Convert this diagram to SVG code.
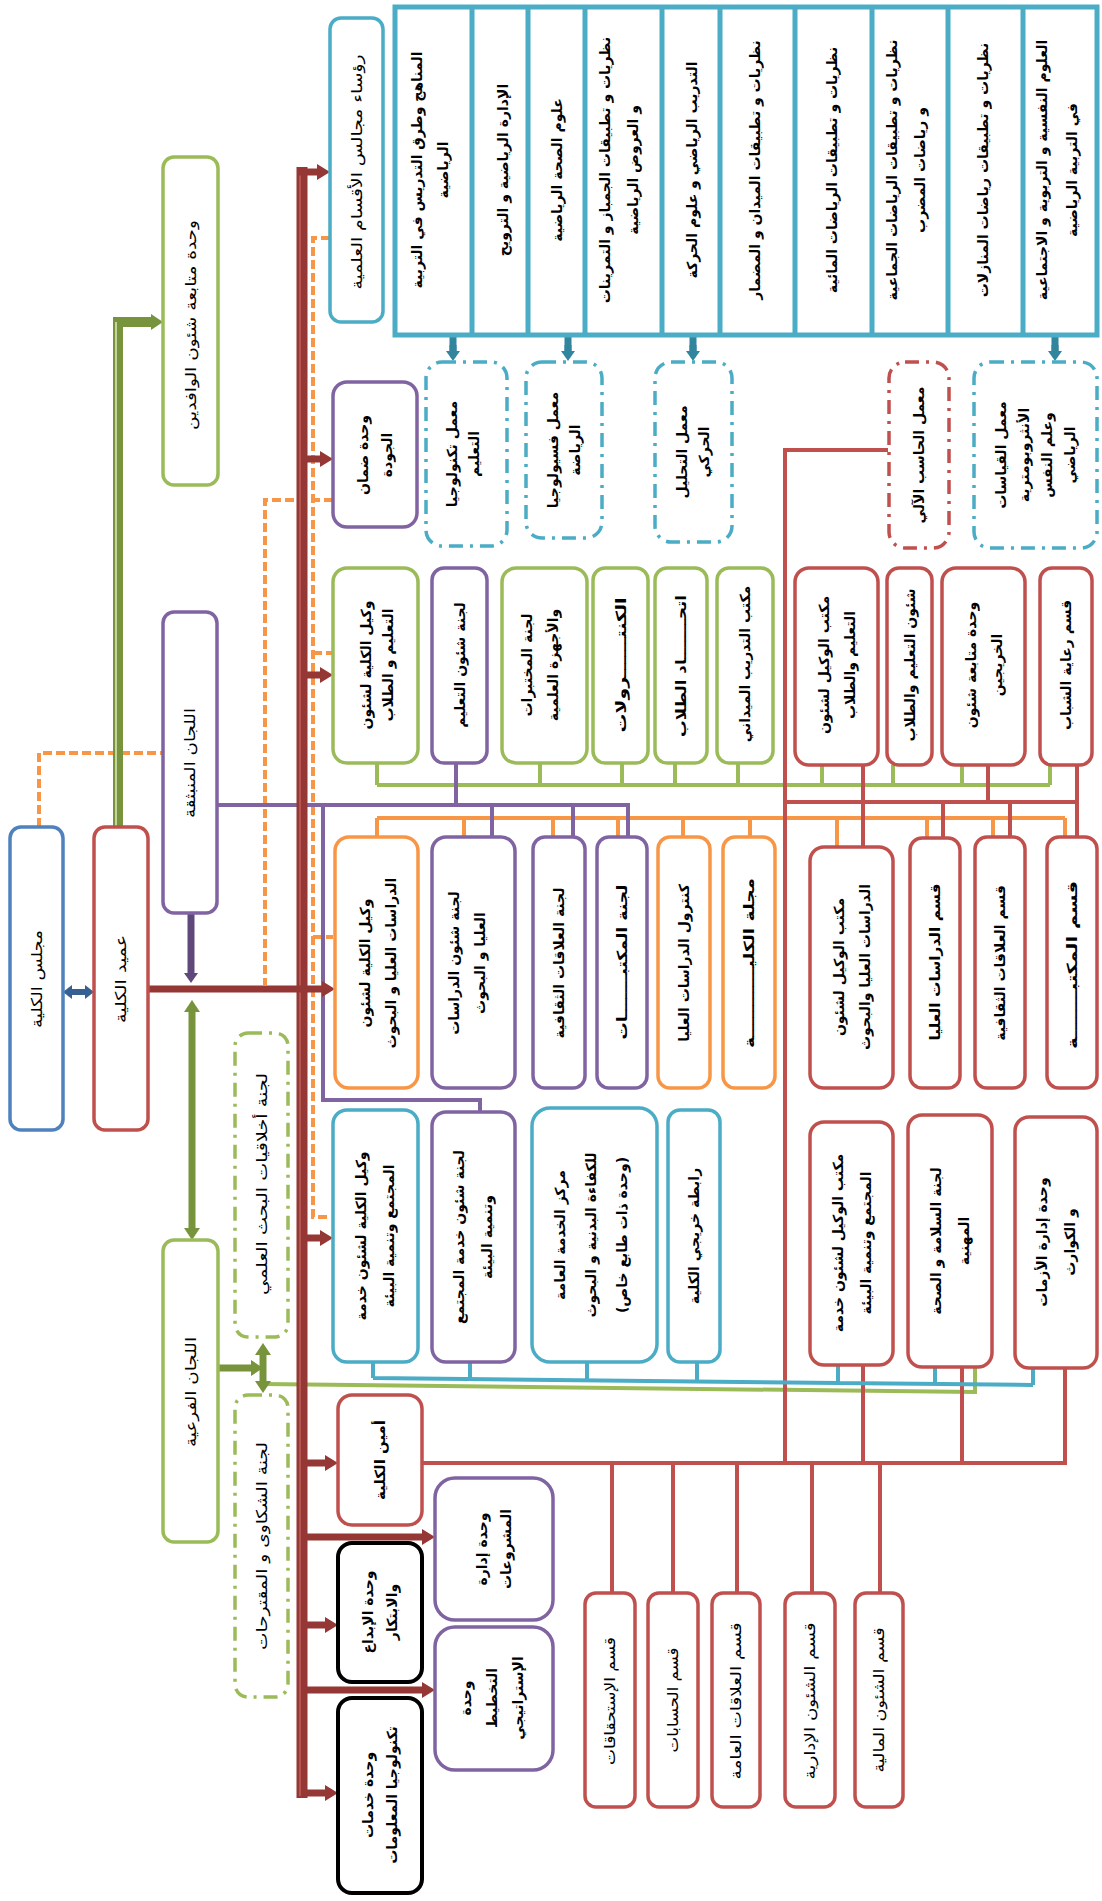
<svg xmlns="http://www.w3.org/2000/svg" width="1102" height="1901" viewBox="0 0 1102 1901">
<style>
.bx{fill:#fff;stroke-width:3.5}
.dd{fill:#fff;stroke-width:3.5;stroke-dasharray:14 7 3 7}
.r{stroke:#C0504D}.g{stroke:#9BBB59}.p{stroke:#8064A2}.b{stroke:#4F81BD}.a{stroke:#4BACC6}.o{stroke:#F79646}.k{stroke:#000;stroke-width:4}
.t,.t tspan{font-family:"DejaVu Sans",sans-serif;font-size:14px;font-weight:bold;text-anchor:middle;direction:rtl;fill:#000;dominant-baseline:central}
.n,.n tspan{font-weight:normal;font-size:15px}
.ln{fill:none;stroke-width:4}
.ds{fill:none;stroke:#F79646;stroke-width:4;stroke-dasharray:9 4}
</style>
<defs>
<marker id="ar" markerUnits="userSpaceOnUse" markerWidth="13" markerHeight="16" refX="0" refY="8" orient="auto"><path d="M0,0L13,8L0,16z" fill="#953735"/></marker>
<marker id="ag" markerUnits="userSpaceOnUse" markerWidth="12" markerHeight="16" refX="0" refY="8" orient="auto-start-reverse"><path d="M0,0L12,8L0,16z" fill="#77933C"/></marker>
<marker id="ab" markerUnits="userSpaceOnUse" markerWidth="9" markerHeight="14" refX="0" refY="7" orient="auto-start-reverse"><path d="M0,0L9,7L0,14z" fill="#376092"/></marker>
<marker id="ap" markerUnits="userSpaceOnUse" markerWidth="10" markerHeight="14" refX="0" refY="7" orient="auto"><path d="M0,0L10,7L0,14z" fill="#5F497A"/></marker>
<marker id="at" markerUnits="userSpaceOnUse" markerWidth="10" markerHeight="14" refX="0" refY="7" orient="auto"><path d="M0,0L10,7L0,14z" fill="#31859C"/></marker>
</defs>

<g id="connectors">
<path class="ds" d="M39,827V753H163"/>
<path class="ds" d="M333,500H265V985"/>
<path class="ds" d="M330,238H313V1217H328M313,653H333M313,937H333"/>
<path class="ln g" d="M377,785H1050M377,763V785M540,763V785M622,763V785M675,763V785M738,763V785M822,765V785M893,765V785M962,765V785M1050,765V785"/>
<path class="ln g" d="M263,1384L975,1392V1367"/>
<path class="ln o" d="M377,818H1065M377,818V837M464,818V837M553,818V837M618,818V837M683,818V837M750,818V837M837,818V847M927,818V838M993,818V837M1065,818V837"/>
<path class="ln p" d="M217,805H628V837M456,763V805M492,805V837M573,805V837M323,805V1100H480V1112"/>
<path class="ln r" d="M888,450H785V1463M785,802H1078M863,765V847M988,765V802M1077,765V837M943,802V838M1010,802V837"/>
<path class="ln r" d="M422,1463H1065V1368M863,1365V1463M962,1367V1463M612,1463V1593M673,1463V1593M737,1463V1593M812,1463V1593M880,1463V1593"/>
<path class="ln a" d="M373,1378L1033,1385M373,1362V1378M470,1362V1379M587,1362V1380M697,1362V1381M838,1365V1383M935,1367V1384M1033,1368V1385"/>
<path d="M453,337V351M568,337V351M693,337V351M1055,337V351" stroke="#31859C" stroke-width="7" fill="none"/>
<path d="M453,345V351" stroke="#31859C" stroke-width="7" marker-end="url(#at)"/>
<path d="M568,345V351" stroke="#31859C" stroke-width="7" marker-end="url(#at)"/>
<path d="M693,345V351" stroke="#31859C" stroke-width="7" marker-end="url(#at)"/>
<path d="M1055,345V351" stroke="#31859C" stroke-width="7" marker-end="url(#at)"/>
<path d="M118,827V322H151" fill="none" stroke="#77933C" stroke-width="10" marker-end="url(#ag)"/>
<path d="M116,827V322" fill="none" stroke="#C3D69B" stroke-width="2"/>
<path d="M192,1012V1228" fill="none" stroke="#77933C" stroke-width="7" marker-start="url(#ag)" marker-end="url(#ag)"/>
<path d="M263,1355V1381" fill="none" stroke="#77933C" stroke-width="7" marker-start="url(#ag)" marker-end="url(#ag)"/>
<path d="M218,1368H251" fill="none" stroke="#77933C" stroke-width="7" marker-end="url(#ag)"/>
<path d="M191,913V973" fill="none" stroke="#5F497A" stroke-width="7" marker-end="url(#ap)"/>
<path d="M72,992H85" fill="none" stroke="#376092" stroke-width="6" marker-start="url(#ab)" marker-end="url(#ab)"/>
<path d="M302,1798V167" fill="none" stroke="#953735" stroke-width="11"/>
<path d="M300,1796V170" fill="none" stroke="#B65450" stroke-width="2"/>
<g fill="none" stroke="#953735" stroke-width="7" marker-end="url(#ar)">
<path d="M298,172H317"/>
<path d="M302,459H320"/>
<path d="M302,675H320"/>
<path d="M148,989H322"/>
<path d="M302,1238H320"/>
<path d="M302,1463H325"/>
<path d="M302,1537H422"/>
<path d="M302,1625H325"/>
<path d="M302,1690H422"/>
<path d="M302,1793H325"/>
</g>
</g>

<g id="departments-table">
<rect x="395" y="7" width="702" height="328" fill="#fff" stroke="#4BACC6" stroke-width="5"/>
<path d="M472,7V335M528,7V335M585,7V335M662,7V335M720,7V335M795,7V335M872,7V335M948,7V335M1023,7V335" stroke="#4BACC6" stroke-width="5"/>
</g>
<g id="dept-1"><text class="t" transform="translate(430,170) rotate(-90)"><tspan x="0" y="-13">المناهج وطرق التدريس في التربية</tspan><tspan x="0" y="13">الرياضية</tspan></text></g>
<g id="dept-2"><text class="t" transform="translate(503,170) rotate(-90)">الإدارة الرياضية و الترويح</text></g>
<g id="dept-3"><text class="t" transform="translate(557,170) rotate(-90)">علوم الصحة الرياضية</text></g>
<g id="dept-4"><text class="t" transform="translate(619,170) rotate(-90)"><tspan x="0" y="-14">نظريات و تطبيقات الجمباز و التمرينات</tspan><tspan x="0" y="14">و العروض الرياضية</tspan></text></g>
<g id="dept-5"><text class="t" transform="translate(692,170) rotate(-90)">التدريب الرياضي و علوم الحركة</text></g>
<g id="dept-6"><text class="t" transform="translate(755,170) rotate(-90)">نظريات و تطبيقات الميدان و المضمار</text></g>
<g id="dept-7"><text class="t" transform="translate(832,170) rotate(-90)">نظريات و تطبيقات الرياضات المائية</text></g>
<g id="dept-8"><text class="t" transform="translate(906,170) rotate(-90)"><tspan x="0" y="-14">نظريات و تطبيقات الرياضات الجماعية</tspan><tspan x="0" y="14">و رياضات المضرب</tspan></text></g>
<g id="dept-9"><text class="t" transform="translate(983,170) rotate(-90)">نظريات و تطبيقات رياضات المنازلات</text></g>
<g id="dept-10"><text class="t" transform="translate(1057,170) rotate(-90)"><tspan x="0" y="-15">العلوم النفسية و التربوية و الاجتماعية</tspan><tspan x="0" y="15">في التربية الرياضية</tspan></text></g>

<g id="lab-1"><rect class="dd a" x="426" y="362" width="81" height="184" rx="16"/><text class="t" transform="translate(463,454) rotate(-90)"><tspan x="0" y="-11">معمل تكنولوجيا</tspan><tspan x="0" y="11">التعليم</tspan></text></g>
<g id="lab-2"><rect class="dd a" x="526" y="362" width="76" height="176" rx="16"/><text class="t" transform="translate(564,450) rotate(-90)"><tspan x="0" y="-11">معمل فسيولوجيا</tspan><tspan x="0" y="11">الرياضة</tspan></text></g>
<g id="lab-3"><rect class="dd a" x="655" y="362" width="77" height="180" rx="16"/><text class="t" transform="translate(693,452) rotate(-90)"><tspan x="0" y="-11">معمل التحليل</tspan><tspan x="0" y="11">الحركي</tspan></text></g>
<g id="lab-4"><rect class="dd r" x="889" y="362" width="60" height="186" rx="16"/><text class="t" transform="translate(919,455) rotate(-90)">معمل الحاسب الآلي</text></g>
<g id="lab-5"><rect class="dd a" x="974" y="362" width="123" height="186" rx="16"/><text class="t" transform="translate(1035,455) rotate(-90)"><tspan x="0" y="-34">معمل القياسات</tspan><tspan x="0" y="-11">الأنثروبومترية</tspan><tspan x="0" y="12">وعلم النفس</tspan><tspan x="0" y="35">الرياضي</tspan></text></g>

<g id="wafideen"><rect class="bx g" x="163" y="157" width="55" height="328" rx="11"/><text class="t n" transform="translate(190.5,325) rotate(-90)" textLength="210" lengthAdjust="spacingAndGlyphs">وحدة متابعة شئون الوافدين</text></g>
<g id="roasa"><rect class="bx a" x="330" y="18" width="53" height="304" rx="11"/><text class="t n" transform="translate(357,172) rotate(-90)" textLength="235" lengthAdjust="spacingAndGlyphs">رؤساء مجالس الأقسام العلمية</text></g>
<g id="jawda"><rect class="bx p" x="333" y="382" width="84" height="145" rx="14"/><text class="t" transform="translate(375,455) rotate(-90)"><tspan x="0" y="-12">وحدة ضمان</tspan><tspan x="0" y="12">الجودة</tspan></text></g>
<g id="munbathiqa"><rect class="bx p" x="163" y="612" width="54" height="301" rx="11"/><text class="t n" transform="translate(190,763) rotate(-90)" textLength="110" lengthAdjust="spacingAndGlyphs">اللجان المنبثقة</text></g>
<g id="majlis"><rect class="bx b" x="10" y="827" width="53" height="303" rx="11"/><text class="t n" transform="translate(36.5,979) rotate(-90)" textLength="98" lengthAdjust="spacingAndGlyphs">مجلس الكلية</text></g>
<g id="ameed"><rect class="bx r" x="94" y="827" width="54" height="303" rx="11"/><text class="t n" transform="translate(121,979) rotate(-90)" textLength="88" lengthAdjust="spacingAndGlyphs">عميد الكلية</text></g>
<g id="akhlaqiat"><rect class="dd g" x="235" y="1033" width="53" height="304" rx="13"/><text class="t n" transform="translate(261.5,1184) rotate(-90)" textLength="222" lengthAdjust="spacingAndGlyphs">لجنة أخلاقيات البحث العلمي</text></g>
<g id="fareiya"><rect class="bx g" x="163" y="1240" width="55" height="302" rx="11"/><text class="t n" transform="translate(190.5,1392) rotate(-90)" textLength="110" lengthAdjust="spacingAndGlyphs">اللجان الفرعية</text></g>
<g id="shakawa"><rect class="dd g" x="235" y="1395" width="53" height="302" rx="13"/><text class="t n" transform="translate(261.5,1546) rotate(-90)" textLength="208" lengthAdjust="spacingAndGlyphs">لجنة الشكاوى و المقترحات</text></g>

<g id="wakeel-taleem"><rect class="bx g" x="333" y="568" width="85" height="195" rx="14"/><text class="t" transform="translate(377,665) rotate(-90)"><tspan x="0" y="-11">وكيل الكلية لشئون</tspan><tspan x="0" y="11">التعليم و الطلاب</tspan></text></g>
<g id="lajnat-taleem"><rect class="bx p" x="432" y="568" width="55" height="195" rx="12"/><text class="t" transform="translate(459.5,665) rotate(-90)">لجنة شئون التعليم</text></g>
<g id="mokhtabarat"><rect class="bx g" x="502" y="568" width="85" height="195" rx="14"/><text class="t" transform="translate(540,665) rotate(-90)"><tspan x="0" y="-13">لجنة المختبرات</tspan><tspan x="0" y="13">والأجهزة العلمية</tspan></text></g>
<g id="kontrolat"><rect class="bx g" x="593" y="568" width="55" height="195" rx="12"/><text class="t" transform="translate(620.5,665) rotate(-90)" textLength="135" lengthAdjust="spacingAndGlyphs">الكنتــــــرولات</text></g>
<g id="itihad"><rect class="bx g" x="655" y="568" width="52" height="195" rx="12"/><text class="t" transform="translate(681,666) rotate(-90)" textLength="142" lengthAdjust="spacingAndGlyphs">اتحـــــــاد الطلاب</text></g>
<g id="tadreeb"><rect class="bx g" x="717" y="568" width="56" height="195" rx="12"/><text class="t" transform="translate(745,664) rotate(-90)">مكتب التدريب الميداني</text></g>
<g id="maktab-taleem"><rect class="bx r" x="795" y="568" width="83" height="197" rx="14"/><text class="t" transform="translate(836.5,665) rotate(-90)"><tspan x="0" y="-13">مكتب الوكيل لشئون</tspan><tspan x="0" y="13">التعليم والطلاب</tspan></text></g>
<g id="shoon-taleem"><rect class="bx r" x="887" y="568" width="45" height="197" rx="12"/><text class="t" transform="translate(909.5,665) rotate(-90)">شئون التعليم والطلاب</text></g>
<g id="khirijeen"><rect class="bx r" x="942" y="568" width="83" height="197" rx="14"/><text class="t" transform="translate(983.5,665) rotate(-90)"><tspan x="0" y="-13">وحدة متابعة شئون</tspan><tspan x="0" y="13">الخريجين</tspan></text></g>
<g id="riaya"><rect class="bx r" x="1040" y="568" width="52" height="197" rx="12"/><text class="t" transform="translate(1066,665) rotate(-90)">قسم رعاية الشباب</text></g>

<g id="wakeel-dirasat"><rect class="bx o" x="335" y="837" width="83" height="251" rx="14"/><text class="t" transform="translate(378,963) rotate(-90)"><tspan x="0" y="-13">وكيل الكلية لشئون</tspan><tspan x="0" y="13">الدراسات العليا و البحوث</tspan></text></g>
<g id="lajnat-dirasat"><rect class="bx p" x="432" y="837" width="83" height="251" rx="14"/><text class="t" transform="translate(467,963) rotate(-90)"><tspan x="0" y="-13">لجنة شئون الدراسات</tspan><tspan x="0" y="13">العليا و البحوث</tspan></text></g>
<g id="lajnat-alaqat"><rect class="bx p" x="533" y="837" width="52" height="251" rx="12"/><text class="t" transform="translate(559,963) rotate(-90)">لجنة العلاقات الثقافية</text></g>
<g id="lajnat-maktabat"><rect class="bx p" x="597" y="837" width="50" height="251" rx="12"/><text class="t" transform="translate(622,962) rotate(-90)" textLength="155" lengthAdjust="spacingAndGlyphs">لجنة المكتبـــــــات</text></g>
<g id="kontrol-dirasat"><rect class="bx o" x="658" y="837" width="52" height="251" rx="12"/><text class="t" transform="translate(684,963) rotate(-90)">كنترول الدراسات العليا</text></g>
<g id="majalla"><rect class="bx o" x="723" y="837" width="52" height="251" rx="12"/><text class="t" transform="translate(749,963) rotate(-90)" textLength="170" lengthAdjust="spacingAndGlyphs">مجلة الكليـــــــــــة</text></g>
<g id="maktab-dirasat"><rect class="bx r" x="810" y="847" width="83" height="241" rx="14"/><text class="t" transform="translate(851.5,967) rotate(-90)"><tspan x="0" y="-13">مكتب الوكيل لشئون</tspan><tspan x="0" y="13">الدراسات العليا والبحوث</tspan></text></g>
<g id="qism-dirasat"><rect class="bx r" x="910" y="838" width="50" height="250" rx="12"/><text class="t" transform="translate(935,962) rotate(-90)" textLength="157" lengthAdjust="spacingAndGlyphs">قسم الدراسات العليا</text></g>
<g id="qism-alaqat"><rect class="bx r" x="975" y="837" width="50" height="251" rx="12"/><text class="t" transform="translate(1000,963) rotate(-90)">قسم العلاقات الثقافية</text></g>
<g id="qism-maktaba"><rect class="bx r" x="1047" y="837" width="50" height="251" rx="12"/><text class="t" transform="translate(1072,965) rotate(-90)" textLength="168" lengthAdjust="spacingAndGlyphs">قسم المكتبـــــــة</text></g>

<g id="wakeel-khidma"><rect class="bx a" x="333" y="1110" width="85" height="252" rx="14"/><text class="t" transform="translate(375,1236) rotate(-90)"><tspan x="0" y="-14">وكيل الكلية لشئون خدمة</tspan><tspan x="0" y="14">المجتمع وتنمية البيئة</tspan></text></g>
<g id="lajnat-khidma"><rect class="bx p" x="432" y="1112" width="83" height="250" rx="14"/><text class="t" transform="translate(473,1237) rotate(-90)"><tspan x="0" y="-14">لجنة شئون خدمة المجتمع</tspan><tspan x="0" y="14">وتنمية البيئة</tspan></text></g>
<g id="markaz"><rect class="bx a" x="532" y="1108" width="125" height="254" rx="18"/><text class="t" transform="translate(591,1235) rotate(-90)"><tspan x="0" y="-31">مركز الخدمة العامة</tspan><tspan x="0" y="0">للكفاءة البدنية و البحوث</tspan><tspan x="0" y="31">(وحدة ذات طابع خاص)</tspan></text></g>
<g id="rabita"><rect class="bx a" x="668" y="1110" width="52" height="252" rx="12"/><text class="t" transform="translate(694,1236) rotate(-90)">رابطة خريجي الكلية</text></g>
<g id="maktab-khidma"><rect class="bx r" x="810" y="1122" width="83" height="243" rx="14"/><text class="t" transform="translate(851.5,1243) rotate(-90)"><tspan x="0" y="-14">مكتب الوكيل لشئون خدمة</tspan><tspan x="0" y="14">المجتمع وتنمية البيئة</tspan></text></g>
<g id="salama"><rect class="bx r" x="908" y="1115" width="84" height="252" rx="14"/><text class="t" transform="translate(950,1241) rotate(-90)"><tspan x="0" y="-14">لجنة السلامة و الصحة</tspan><tspan x="0" y="14">المهنية</tspan></text></g>
<g id="azamat"><rect class="bx r" x="1015" y="1117" width="82" height="251" rx="14"/><text class="t" transform="translate(1056,1242) rotate(-90)"><tspan x="0" y="-14">وحدة إدارة الأزمات</tspan><tspan x="0" y="14">و الكوارث</tspan></text></g>

<g id="ameen"><rect class="bx r" x="338" y="1395" width="84" height="130" rx="14"/><text class="t" transform="translate(380,1460) rotate(-90)" textLength="80" lengthAdjust="spacingAndGlyphs">أمين الكلية</text></g>
<g id="mashroat"><rect class="bx p" x="435" y="1478" width="118" height="142" rx="20"/><text class="t" transform="translate(494,1549) rotate(-90)"><tspan x="0" y="-12">وحدة إدارة</tspan><tspan x="0" y="12">المشروعات</tspan></text></g>
<g id="takhteet"><rect class="bx p" x="435" y="1627" width="118" height="143" rx="20"/><text class="t" transform="translate(492,1698) rotate(-90)"><tspan x="0" y="-26">وحدة</tspan><tspan x="0" y="0">التخطيط</tspan><tspan x="0" y="26">الإستراتيجي</tspan></text></g>
<g id="ibda"><rect class="bx k" x="338" y="1543" width="84" height="139" rx="14"/><text class="t" transform="translate(380,1612) rotate(-90)"><tspan x="0" y="-12">وحدة الإبداع</tspan><tspan x="0" y="12">والابتكار</tspan></text></g>
<g id="khadamat"><rect class="bx k" x="338" y="1698" width="84" height="195" rx="14"/><text class="t" transform="translate(380,1795) rotate(-90)"><tspan x="0" y="-12">وحدة خدمات</tspan><tspan x="0" y="12">تكنولوجيا المعلومات</tspan></text></g>
<g id="istihqaqat"><rect class="bx r" x="585" y="1593" width="50" height="214" rx="11"/><text class="t n" transform="translate(610,1701) rotate(-90)" textLength="128" lengthAdjust="spacingAndGlyphs">قسم الإستحقاقات</text></g>
<g id="hisabat"><rect class="bx r" x="648" y="1593" width="50" height="214" rx="11"/><text class="t n" transform="translate(673,1700) rotate(-90)" textLength="105" lengthAdjust="spacingAndGlyphs">قسم الحسابات</text></g>
<g id="alaqat-amma"><rect class="bx r" x="712" y="1593" width="48" height="214" rx="11"/><text class="t n" transform="translate(736,1701) rotate(-90)" textLength="157" lengthAdjust="spacingAndGlyphs">قسم العلاقات العامة</text></g>
<g id="idariya"><rect class="bx r" x="785" y="1593" width="50" height="214" rx="11"/><text class="t n" transform="translate(810,1701) rotate(-90)" textLength="157" lengthAdjust="spacingAndGlyphs">قسم الشئون الإدارية</text></g>
<g id="maliya"><rect class="bx r" x="855" y="1593" width="48" height="214" rx="11"/><text class="t n" transform="translate(879,1700) rotate(-90)" textLength="145" lengthAdjust="spacingAndGlyphs">قسم الشئون المالية</text></g>
</svg>
